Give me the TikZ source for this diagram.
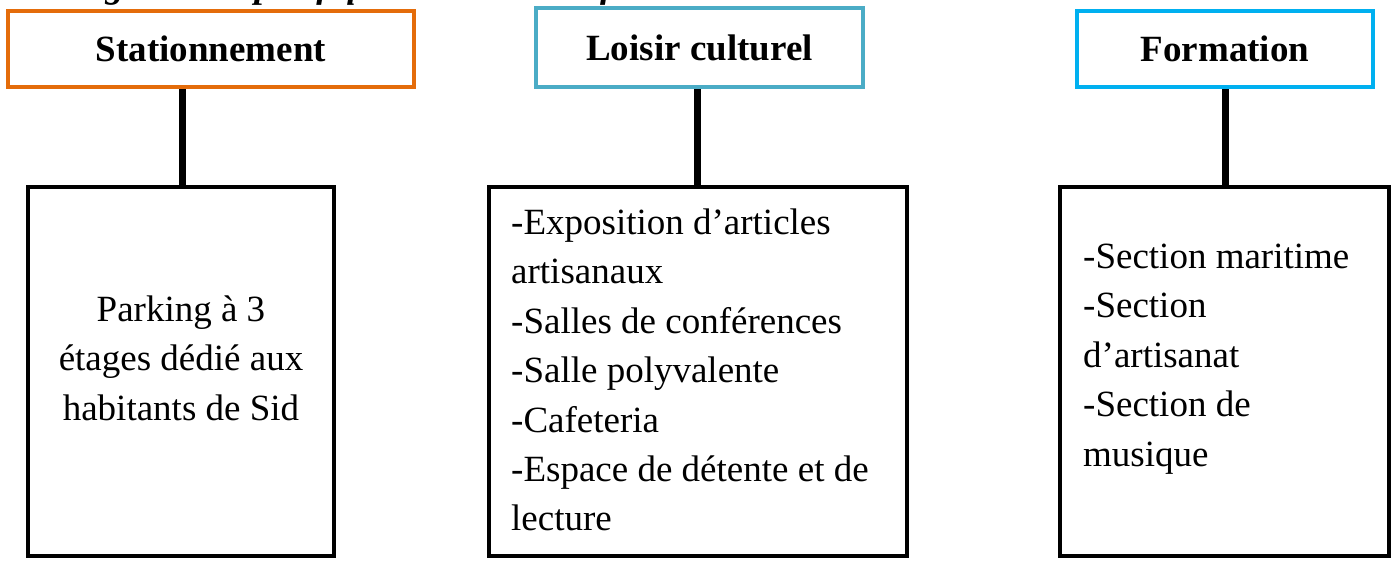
\documentclass[tikz,border=0pt]{standalone}
\usepackage{fontspec}
\setmainfont{Liberation Serif}
\usetikzlibrary{positioning}

\definecolor{statorange}{RGB}{228,108,10}
\definecolor{loisirblue}{RGB}{75,172,198}
\definecolor{formblue}{RGB}{0,176,240}

\begin{document}
\begin{tikzpicture}[
    x=1pt, y=-1pt,
    headbox/.style={rectangle, draw, line width=4.5pt, align=center, minimum height=76,
                    inner sep=0pt, font=\fontsize{37}{49.4}\selectfont\bfseries},
    listbox/.style={rectangle, draw, line width=4.5pt, minimum height=369, inner sep=0pt},
    listtext/.style={inner sep=0pt, font=\fontsize{37}{49.4}\selectfont},
    link/.style={line width=7pt},
]
    \useasboundingbox (0,0) rectangle (1400,561);
    \clip (0,0) rectangle (1400,561);

    % ── Caption (cut at the top) ──
    \node[anchor=base west, inner sep=0pt, font=\fontsize{37}{44}\selectfont\bfseries\itshape]
        (caption) at (50,-2) {Programme spécifique du centre de formation};

    % ── Headings ──
    \node[headbox, draw=statorange, minimum width=406] (stat) at (211,49) {Stationnement};
    \node[headbox, draw=loisirblue, minimum width=327, minimum height=79] (loisir) at (699.5,47.5)
        {Loisir culturel};
    \node[headbox, draw=formblue, minimum width=296] (form) at (1225,49) {Formation};

    % ── Content boxes ──
    \node[listbox, minimum width=306] (statbox) at (181,371.5) {};
    \node[listbox, minimum width=418] (loisirbox) at (698,371.5) {};
    \node[listbox, minimum width=329] (formbox) at (1224.5,371.5) {};

    % Stationnement
    \node[listtext, align=center] (statlist) at (181,358)
        {Parking à 3\\étages dédié aux\\habitants de Sid};

    % Loisir culturel
    \node[listtext, align=left, anchor=west] (loisirlist) at (511,370)
        {-Exposition d’articles\\artisanaux\\-Salles de conférences\\-Salle polyvalente\\
         -Cafeteria\\-Espace de détente et de\\lecture};

    % Formation
    \node[listtext, align=left, anchor=west] (formlist) at (1083,359)
        {-Section maritime\\-Section\\d’artisanat\\-Section de\\musique};

    % ── Links ──
    \draw[link] ([xshift=-29pt]stat.south) -- ([xshift=1pt]statbox.north);
    \draw[link] ([xshift=-2.5pt]loisir.south) -- ([xshift=-1pt]loisirbox.north);
    \draw[link] (form.south) -- ([xshift=0.5pt]formbox.north);

\end{tikzpicture}
\end{document}
